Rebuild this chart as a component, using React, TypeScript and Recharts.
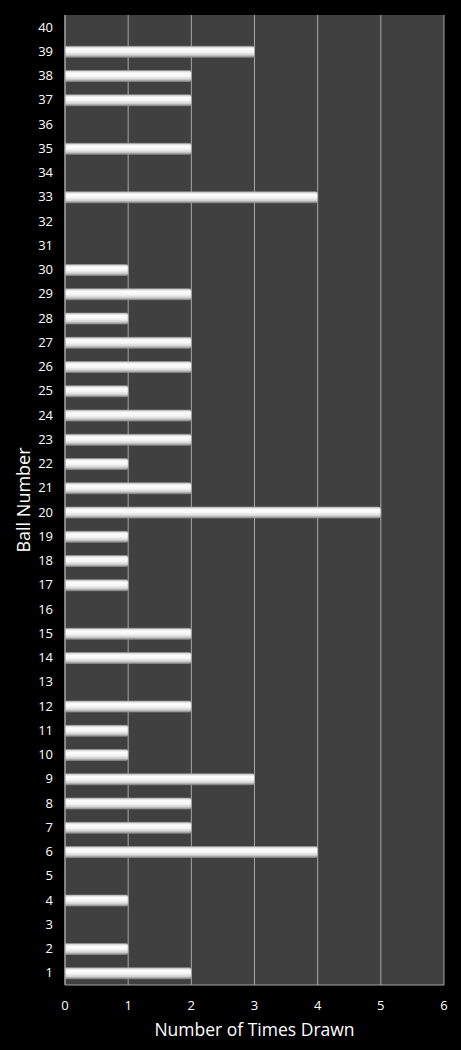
import React from 'react'
import { BarChart, Bar, XAxis, YAxis, CartesianGrid, ReferenceLine } from 'recharts'

// ball numbers 1..40 and how often each was drawn
const balls = [
  '1', '2', '3', '4', '5', '6', '7', '8', '9', '10',
  '11', '12', '13', '14', '15', '16', '17', '18', '19', '20',
  '21', '22', '23', '24', '25', '26', '27', '28', '29', '30',
  '31', '32', '33', '34', '35', '36', '37', '38', '39', '40',
]
const timesDrawn = [
  2, 1, 0, 1, 0, 4, 2, 2, 3, 1,
  1, 2, 0, 2, 2, 0, 1, 1, 1, 5,
  2, 1, 2, 2, 1, 2, 2, 1, 2, 1,
  0, 0, 4, 0, 2, 0, 2, 2, 3, 0,
]
const xTicks = [0, 1, 2, 3, 4, 5, 6]

const data = balls.map((ball, i) => ({ ball, drawn: timesDrawn[i] }))

const FONT = '"Open Sans", "DejaVu Sans", sans-serif'
const tickStyle = { fill: '#ffffff', stroke: 'none', fontSize: 13, fontFamily: FONT }

export default function App() {
  return (
    <div style={{ position: 'absolute', left: 0, top: 0, width: 461, height: 1050, background: '#000' }}>
      <BarChart
        width={461}
        height={1050}
        data={data}
        layout="vertical"
        margin={{ top: 15, right: 17, bottom: 0, left: 0 }}
      >
        <defs>
          <linearGradient id="barShine" x1="0" y1="0" x2="0" y2="1">
            <stop offset="0%" stopColor="#c8c8c8" />
            <stop offset="25%" stopColor="#ffffff" />
            <stop offset="55%" stopColor="#f4f4f4" />
            <stop offset="80%" stopColor="#d0d0d0" />
            <stop offset="100%" stopColor="#8a8a8a" />
          </linearGradient>
        </defs>
        <CartesianGrid
          horizontal={false}
          stroke="#a6a6a6"
          strokeWidth={1}
          fill="#404040"
          fillOpacity={1}
        />
        <XAxis
          type="number"
          domain={[0, 6]}
          ticks={xTicks}
          height={65}
          axisLine={{ stroke: '#a6a6a6' }}
          tickLine={false}
          tick={tickStyle}
          tickMargin={10}
          label={{
            value: 'Number of Times Drawn',
            position: 'insideBottom',
            offset: 14,
            fill: '#ffffff',
            fontSize: 17.5,
            fontFamily: FONT,
          }}
        />
        <YAxis
          type="category"
          dataKey="ball"
          reversed
          width={65}
          interval={0}
          axisLine={false}
          tickLine={false}
          tick={tickStyle}
          tickMargin={6}
          label={{
            value: 'Ball Number',
            angle: -90,
            position: 'insideLeft',
            offset: 24,
            style: { textAnchor: 'middle' },
            fill: '#ffffff',
            fontSize: 18,
            fontFamily: FONT,
          }}
        />
        <ReferenceLine x={0} stroke="#a6a6a6" />
        <Bar
          dataKey="drawn"
          barSize={11}
          fill="url(#barShine)"
          stroke="#9a9a9a"
          strokeWidth={0.6}
          radius={[0, 2, 2, 0]}
          isAnimationActive={false}
        />
      </BarChart>
    </div>
  )
}
